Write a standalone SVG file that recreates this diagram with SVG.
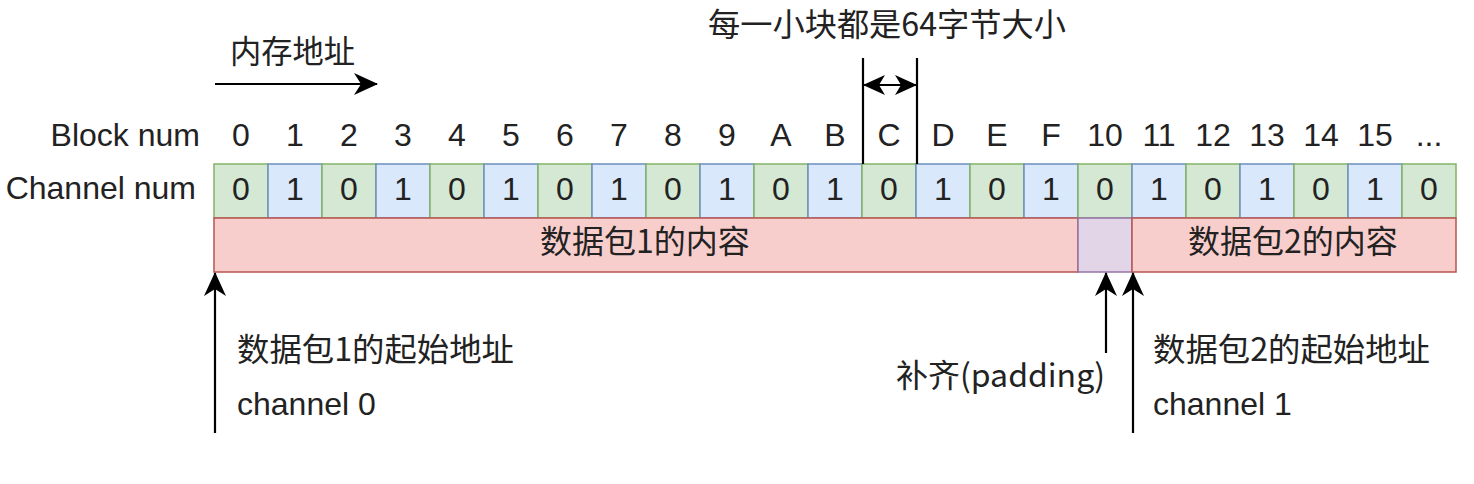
<svg xmlns="http://www.w3.org/2000/svg" width="1474" height="484" viewBox="0 0 1474 484">
<defs>
<marker id="ah" viewBox="0 0 24 24" refX="23" refY="12" markerWidth="24" markerHeight="24" markerUnits="userSpaceOnUse" orient="auto-start-reverse">
<path d="M0,1 L24,12 L0,23 L7,12 Z" fill="#000"/>
</marker>
<marker id="ah2" viewBox="0 0 22 22" refX="21" refY="11" markerWidth="22" markerHeight="22" markerUnits="userSpaceOnUse" orient="auto-start-reverse">
<path d="M0,1 L22,11 L0,21 L6,11 Z" fill="#000"/>
</marker>
</defs>
<style>
.t{font-family:"Liberation Sans","Noto Sans CJK SC",sans-serif;fill:#222;font-size:32px}
.c{font-family:"Noto Sans CJK SC","Liberation Sans",sans-serif;fill:#222;font-size:32px}
.m{text-anchor:middle}
.g{fill:#d5e8d4;stroke:#82b366;stroke-width:1.5}
.b{fill:#dae8fc;stroke:#6c8ebf;stroke-width:1.5}
.p{fill:#f8cecc;stroke:#b85450;stroke-width:1.5}
.v{fill:#e1d5e7;stroke:#9673a6;stroke-width:1.5}
.ln{stroke:#000;stroke-width:2.2;fill:none}
</style>
<rect width="1474" height="484" fill="#fff"/>

<g id="labels">
<text class="c" x="230" y="63" textLength="125" lengthAdjust="spacingAndGlyphs">内存地址</text>
<text class="c" x="708" y="36" textLength="358" lengthAdjust="spacingAndGlyphs">每一小块都是64字节大小</text>
<text class="t" x="200" y="146" text-anchor="end">Block num</text>
<text class="t" x="196" y="199" text-anchor="end">Channel num</text>
</g>

<g id="blocknums" class="t m">
<text x="241" y="146">0</text><text x="295" y="146">1</text><text x="349" y="146">2</text><text x="403" y="146">3</text>
<text x="457" y="146">4</text><text x="511" y="146">5</text><text x="565" y="146">6</text><text x="619" y="146">7</text>
<text x="673" y="146">8</text><text x="727" y="146">9</text><text x="781" y="146">A</text><text x="835" y="146">B</text>
<text x="889" y="146">C</text><text x="943" y="146">D</text><text x="997" y="146">E</text><text x="1051" y="146">F</text>
<text x="1105" y="146">10</text><text x="1159" y="146">11</text><text x="1213" y="146">12</text><text x="1267" y="146">13</text>
<text x="1321" y="146">14</text><text x="1375" y="146">15</text><text x="1429" y="146">...</text>
</g>

<g id="channels">
<rect class="g" x="214" y="164" width="54" height="54"/><rect class="b" x="268" y="164" width="54" height="54"/>
<rect class="g" x="322" y="164" width="54" height="54"/><rect class="b" x="376" y="164" width="54" height="54"/>
<rect class="g" x="430" y="164" width="54" height="54"/><rect class="b" x="484" y="164" width="54" height="54"/>
<rect class="g" x="538" y="164" width="54" height="54"/><rect class="b" x="592" y="164" width="54" height="54"/>
<rect class="g" x="646" y="164" width="54" height="54"/><rect class="b" x="700" y="164" width="54" height="54"/>
<rect class="g" x="754" y="164" width="54" height="54"/><rect class="b" x="808" y="164" width="54" height="54"/>
<rect class="g" x="862" y="164" width="54" height="54"/><rect class="b" x="916" y="164" width="54" height="54"/>
<rect class="g" x="970" y="164" width="54" height="54"/><rect class="b" x="1024" y="164" width="54" height="54"/>
<rect class="g" x="1078" y="164" width="54" height="54"/><rect class="b" x="1132" y="164" width="54" height="54"/>
<rect class="g" x="1186" y="164" width="54" height="54"/><rect class="b" x="1240" y="164" width="54" height="54"/>
<rect class="g" x="1294" y="164" width="54" height="54"/><rect class="b" x="1348" y="164" width="54" height="54"/>
<rect class="g" x="1402" y="164" width="54" height="54"/>
<g class="t m">
<text x="241" y="200">0</text><text x="295" y="200">1</text><text x="349" y="200">0</text><text x="403" y="200">1</text>
<text x="457" y="200">0</text><text x="511" y="200">1</text><text x="565" y="200">0</text><text x="619" y="200">1</text>
<text x="673" y="200">0</text><text x="727" y="200">1</text><text x="781" y="200">0</text><text x="835" y="200">1</text>
<text x="889" y="200">0</text><text x="943" y="200">1</text><text x="997" y="200">0</text><text x="1051" y="200">1</text>
<text x="1105" y="200">0</text><text x="1159" y="200">1</text><text x="1213" y="200">0</text><text x="1267" y="200">1</text>
<text x="1321" y="200">0</text><text x="1375" y="200">1</text><text x="1429" y="200">0</text>
</g>
</g>

<g id="packet1">
<rect class="p" x="214" y="218" width="864" height="54"/>
<text class="c m" x="645" y="253">数据包1的内容</text>
</g>
<g id="padding">
<rect class="v" x="1078" y="218" width="54" height="54"/>
</g>
<g id="packet2">
<rect class="p" x="1132" y="218" width="324" height="54"/>
<text class="c m" x="1293" y="253">数据包2的内容</text>
</g>

<g id="connectors">
<line class="ln" x1="215" y1="84" x2="377" y2="84" marker-end="url(#ah)"/>
<line class="ln" x1="863" y1="58" x2="863" y2="164"/>
<line class="ln" x1="917" y1="58" x2="917" y2="164"/>
<line class="ln" x1="864" y1="85" x2="916" y2="85" marker-start="url(#ah2)" marker-end="url(#ah2)"/>
<line class="ln" x1="215" y1="433" x2="215" y2="273" marker-end="url(#ah)"/>
<line class="ln" x1="1106" y1="353" x2="1106" y2="273" marker-end="url(#ah)"/>
<line class="ln" x1="1133" y1="433" x2="1133" y2="273" marker-end="url(#ah)"/>
</g>

<g id="annotations">
<text class="c" x="237" y="361" textLength="277" lengthAdjust="spacingAndGlyphs">数据包1的起始地址</text>
<text class="t" x="237" y="415">channel 0</text>
<text class="c" x="1105" y="387" text-anchor="end">补齐(padding)</text>
<text class="c" x="1153" y="361" textLength="277" lengthAdjust="spacingAndGlyphs">数据包2的起始地址</text>
<text class="t" x="1153" y="415">channel 1</text>
</g>
</svg>
